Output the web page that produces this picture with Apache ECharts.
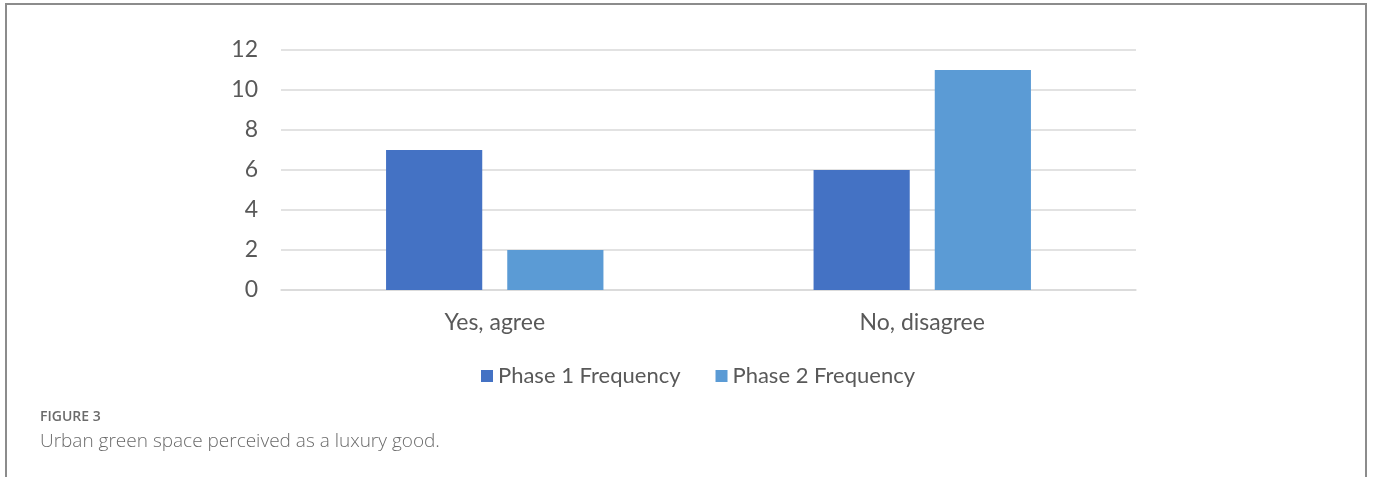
<!DOCTYPE html>
<html>
<head>
<meta charset="utf-8">
<script src="https://cdn.jsdelivr.net/npm/echarts@6/dist/echarts.min.js"></script>
<style>
  html, body { margin: 0; padding: 0; background: #fff; }
  #chart { width: 1373px; height: 477px; }
</style>
</head>
<body>
<div id="chart"></div>
<script>
// Survey answers: is urban green space a luxury good?
const categories = ['Yes, agree', 'No, disagree'];
const phase1Frequency = [7, 6];
const phase2Frequency = [2, 11];
const seriesNames = ['Phase 1 Frequency', 'Phase 2 Frequency'];
const figureLabel = 'FIGURE 3';
const figureCaption = 'Urban green space perceived as a luxury good.';

const chart = echarts.init(document.getElementById('chart'));
const font = 'Lato, "Noto Sans", sans-serif';

chart.setOption({
  animation: false,
  backgroundColor: '#fff',
  grid: { left: 281, right: 237, top: 50, bottom: 187 },
  legend: {
    data: seriesNames,
    left: 476,
    top: 360,
    itemWidth: 12,
    itemHeight: 12,
    itemGap: 35,
    icon: 'rect',
    textStyle: { fontFamily: font, fontSize: 22, color: '#595959' }
  },
  xAxis: {
    type: 'category',
    data: categories,
    axisLine: { lineStyle: { color: '#d9d9d9', width: 1.5 } },
    axisTick: { show: false },
    axisLabel: { fontFamily: font, fontSize: 23, color: '#595959', margin: 21 }
  },
  yAxis: {
    type: 'value',
    min: 0,
    max: 12,
    interval: 2,
    axisLine: { show: false },
    axisTick: { show: false },
    axisLabel: { fontFamily: font, fontSize: 23, color: '#595959', margin: 23 },
    splitLine: { lineStyle: { color: '#d9d9d9', width: 1.5 } }
  },
  series: [
    {
      name: seriesNames[0],
      type: 'bar',
      data: phase1Frequency,
      barWidth: '22.5%',
      barGap: '26%',
      itemStyle: { color: '#4472C4' }
    },
    {
      name: seriesNames[1],
      type: 'bar',
      data: phase2Frequency,
      barWidth: '22.5%',
      barGap: '26%',
      itemStyle: { color: '#5B9BD5' }
    }
  ],
  graphic: [
    {
      type: 'rect',
      shape: { x: 6, y: 4, width: 1360, height: 480 },
      style: { fill: 'none', stroke: '#8c8c8c', lineWidth: 2 },
      silent: true
    },
    {
      type: 'text',
      left: 40,
      top: 410,
      style: { text: figureLabel, fontFamily: '"Open Sans", sans-serif', fontSize: 14, fontWeight: 600, fill: '#6b6b6b' }
    },
    {
      type: 'text',
      left: 40,
      top: 432,
      style: { text: figureCaption, fontFamily: '"Open Sans", sans-serif', fontSize: 19, fontWeight: 300, fill: '#6b6b6b' }
    }
  ]
});
</script>
</body>
</html>
